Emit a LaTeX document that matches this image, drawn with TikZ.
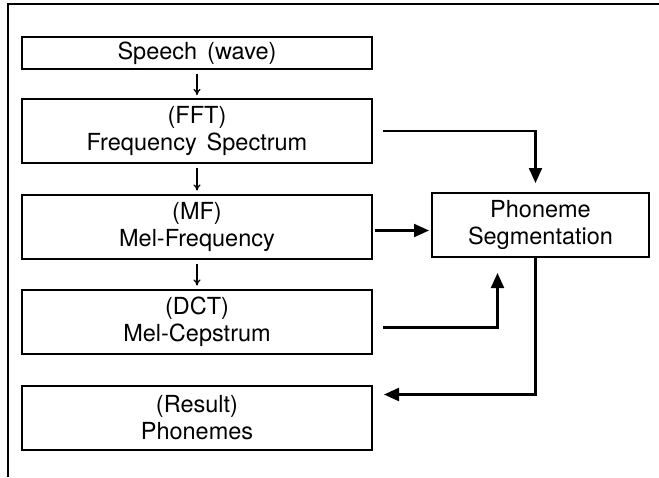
\documentclass[tikz,border=0pt]{standalone}
\usepackage{fontspec}
\setmainfont{TeX Gyre Heros}
\usetikzlibrary{arrows.meta}

\begin{document}
\begin{tikzpicture}[x=1pt,y=-1pt,
  box/.style={draw, line width=2pt, minimum width=350pt, minimum height=64pt, inner sep=0pt, align=center, font={\fontsize{23.5}{27}\selectfont\spaceskip=10pt\relax}},
  thinarrow/.style={line width=1.4pt, -{To[length=6pt,width=7pt]}, shorten <=4pt, shorten >=3pt},
  bigarrow/.style={line width=2.2pt, -{Triangle[length=15pt,width=13pt]}}]
\useasboundingbox (0,0) rectangle (659,477);
\draw[line width=2.2pt] (8,477)--(8,4)--(659,4);
% left column
\node[box, minimum height=32pt] (speech) at (197,53) {Speech (wave)};
\node[box] (fft) at (197,131) {(FFT)\\Frequency Spectrum};
\node[box] (mf) at (197,226.5) {(MF)\\Mel-Frequency};
\node[box] (dct) at (197,321.5) {(DCT)\\Mel-Cepstrum};
\node[box] (res) at (197,417.5) {(Result)\\Phonemes};
% right box
\node[box, minimum width=217pt] (phon) at (540.5,225) {Phoneme\\Segmentation};
\draw[thinarrow] (speech) -- (fft);
\draw[thinarrow] (fft) -- (mf);
\draw[thinarrow] (mf) -- (dct);
\draw[bigarrow, shorten <=10pt, shorten >=9pt] (fft.east) -| ([xshift=-5pt]phon.north);
\draw[bigarrow, shorten <=2pt, shorten >=2pt] ([yshift=-4pt]mf.east) -- ([yshift=-4pt]mf.east -| phon.west);
\draw[bigarrow, shorten <=10pt, shorten >=15pt] ([yshift=-6pt]dct.east) -| ([xshift=-43pt]phon.south);
\draw[bigarrow, shorten >=11pt] ([xshift=-5pt]phon.south) |- ([yshift=23pt]res.east);
\end{tikzpicture}
\end{document}
